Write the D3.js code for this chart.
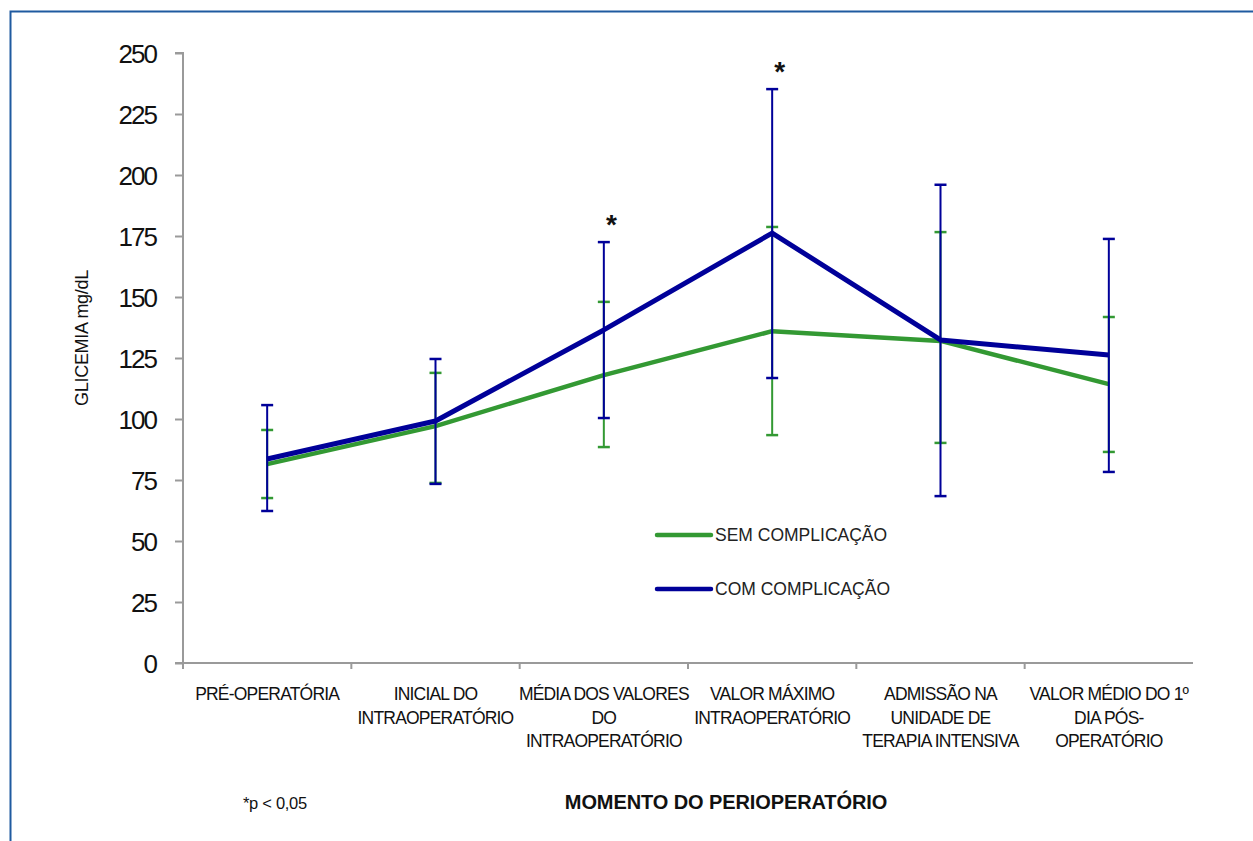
<!DOCTYPE html>
<html><head><meta charset="utf-8">
<script src="https://cdn.jsdelivr.net/npm/d3@7"></script>
<style>body{margin:0;background:#fff;} svg{display:block;font-family:"Liberation Sans",Arial,sans-serif;}</style>
</head><body>
<script>
const categories = [
  ["PRÉ-OPERATÓRIA"],
  ["INICIAL DO", "INTRAOPERATÓRIO"],
  ["MÉDIA DOS VALORES", "DO", "INTRAOPERATÓRIO"],
  ["VALOR MÁXIMO", "INTRAOPERATÓRIO"],
  ["ADMISSÃO NA", "UNIDADE DE", "TERAPIA INTENSIVA"],
  ["VALOR MÉDIO DO 1º", "DIA PÓS-", "OPERATÓRIO"]
];
const seriesNames = ["SEM COMPLICAÇÃO", "COM COMPLICAÇÃO"];
const semMean = [81.5, 97.1, 118.0, 136.0, 132.0, 114.3];
const semHigh = [95.5, 118.9, 148.0, 178.7, 176.6, 141.8];
const semLow  = [67.6, 73.8, 88.5, 93.4, 90.2, 86.5];
const comMean = [83.6, 99.2, 136.5, 176.2, 132.4, 126.2];
const comHigh = [105.7, 124.6, 172.5, 235.2, 196.0, 173.8];
const comLow  = [62.3, 73.4, 100.4, 116.8, 68.4, 78.3];
const significant = [false, false, true, true, false, false];
const yTicks = [0, 25, 50, 75, 100, 125, 150, 175, 200, 225, 250];

const W = 1253, H = 841;
const svg = d3.select("body").append("svg").attr("width", W).attr("height", H);

// frame
svg.append("path").attr("d", `M10.5,${H} V11.5 H${W}`).attr("fill","none").attr("stroke","#1f5aa0").attr("stroke-width",2);

const x0 = 183, x1 = 1193, yTop = 53, yBot = 663;
const x = d3.scaleBand().domain(d3.range(categories.length)).range([x0, x1]).padding(0);
const y = d3.scaleLinear().domain([0, 250]).range([yBot, yTop]);
const cx = i => x(i) + x.bandwidth() / 2;

// y axis
const yAxis = svg.append("g").attr("transform", `translate(${x0},0)`)
  .call(d3.axisLeft(y).tickValues(yTicks).tickSize(8).tickPadding(19));
yAxis.select(".domain").attr("stroke", "#9a9a9a").attr("stroke-width", 2).attr("d", `M-8,${yTop}H0V${yBot}`);
yAxis.selectAll(".tick line").attr("stroke", "#9a9a9a").attr("stroke-width", 2);
yAxis.selectAll(".tick text").attr("font-size", 26).attr("fill", "#111").attr("letter-spacing", "-2px")
  .attr("dy", "0.36em");

// x axis
const xAxisG = svg.append("g").attr("transform", `translate(0,${yBot})`);
xAxisG.append("line").attr("x1", x0 - 8).attr("x2", x1).attr("y1", 0).attr("y2", 0)
  .attr("stroke", "#9a9a9a").attr("stroke-width", 2);
const tickPos = d3.range(categories.length).map(i => x(i));
xAxisG.selectAll(".xt").data(tickPos).join("line")
  .attr("x1", d => d).attr("x2", d => d).attr("y1", 0).attr("y2", 6)
  .attr("stroke", "#9a9a9a").attr("stroke-width", 2);

const xl = svg.append("g");
categories.forEach((lines, i) => {
  const t = xl.append("text").attr("x", cx(i)).attr("y", 700).attr("text-anchor", "middle")
    .attr("font-size", 17.5).attr("fill", "#111").attr("letter-spacing", "-0.8px");
  lines.forEach((l, k) => t.append("tspan").attr("x", cx(i)).attr("dy", k === 0 ? 0 : 23.5).text(l));
});

// axis titles
svg.append("text").attr("transform", "translate(88,338) rotate(-90)").attr("text-anchor", "middle")
  .attr("font-size", 18).attr("fill", "#111").attr("letter-spacing", "-0.3px").text("GLICEMIA mg/dL");
svg.append("text").attr("x", 726).attr("y", 809).attr("text-anchor", "middle")
  .attr("font-size", 20).attr("font-weight", "bold").attr("fill", "#111").attr("letter-spacing", "-0.1px")
  .text("MOMENTO DO PERIOPERATÓRIO");
svg.append("text").attr("x", 243).attr("y", 809).attr("font-size", 16.5).attr("fill", "#111")
  .attr("letter-spacing", "-0.3px").text("*p < 0,05");

const series = [
  {name: seriesNames[0], mean: semMean, hi: semHigh, lo: semLow, color: "#339933", lw: 4.5},
  {name: seriesNames[1], mean: comMean, hi: comHigh, lo: comLow, color: "#000099", lw: 5}
];
const line = d3.line().x((d, i) => cx(i)).y(d => y(d));

series.forEach(s => {
  const g = svg.append("g");
  s.mean.forEach((m, i) => {
    const px = cx(i);
    g.append("line").attr("x1", px).attr("x2", px).attr("y1", y(s.hi[i])).attr("y2", y(s.lo[i]))
      .attr("stroke", s.color).attr("stroke-width", 2);
    [s.hi[i], s.lo[i]].forEach(v => g.append("line").attr("x1", px - 6).attr("x2", px + 6)
      .attr("y1", y(v)).attr("y2", y(v)).attr("stroke", s.color).attr("stroke-width", 2.5));
  });
  g.append("path").datum(s.mean).attr("d", line).attr("fill", "none")
    .attr("stroke", s.color).attr("stroke-width", s.lw).attr("stroke-linejoin", "round");
});

// significance asterisks
significant.forEach((sig, i) => {
  if (!sig) return;
  svg.append("text").attr("x", cx(i) + 7.5).attr("y", y(comHigh[i]) - 8).attr("text-anchor", "middle")
    .attr("font-size", 28).attr("font-weight", "bold").attr("fill", "#111").text("*");
});

// legend
series.forEach((s, k) => {
  const ly = 535 + k * 54;
  svg.append("line").attr("x1", 657).attr("x2", 711).attr("y1", ly).attr("y2", ly)
    .attr("stroke", s.color).attr("stroke-width", 4.5).attr("stroke-linecap", "round");
  svg.append("text").attr("x", 715).attr("y", ly + 6).attr("font-size", 17.5).attr("fill", "#222")
    .text(s.name);
});
</script>
</body></html>
